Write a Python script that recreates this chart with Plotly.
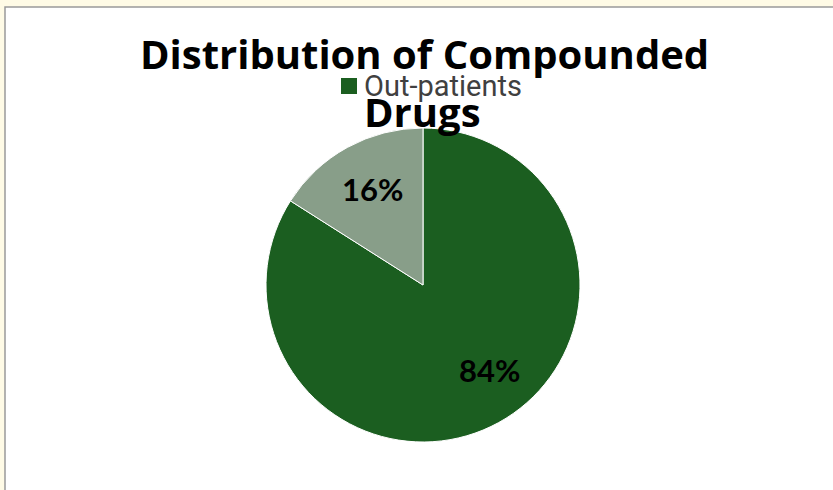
import math
import plotly.graph_objects as go

labels = ["Out-patients", "In-patients"]
values = [84, 16]
colors = ["#1B5E20", "#889E89"]
title_lines = ["Distribution of Compounded", "Drugs"]
legend_label = "Out-patients"

W, H = 833, 490
CX, CY, R = 423, 285, 157

def px(x):
    return x / W

def py(y):
    return 1 - y / H

fig = go.Figure(go.Pie(
    labels=labels,
    values=values,
    sort=False,
    direction="clockwise",
    rotation=0,
    marker=dict(colors=colors, line=dict(color="#FFFFFF", width=1)),
    textinfo="none",
    showlegend=False,
    domain=dict(x=[px(CX - R), px(CX + R)], y=[py(CY + R), py(CY - R)]),
    hoverinfo="label+percent",
))

shapes = [
    dict(type="rect", xref="paper", yref="paper",
         x0=px(5), x1=px(840), y0=py(500), y1=py(7),
         fillcolor="#FFFFFF", line=dict(color="#9A9A9A", width=1.5), layer="below"),
    dict(type="rect", xref="paper", yref="paper",
         x0=px(341), x1=px(357), y0=py(94), y1=py(78),
         fillcolor=colors[0], line=dict(width=0)),
]

annotations = [
    dict(text=title_lines[0], x=px(424), y=py(54), xref="paper", yref="paper",
         showarrow=False, xanchor="center", yanchor="middle",
         font=dict(family="Open Sans", size=40, color="#000000", weight="bold")),
    dict(text=legend_label, x=px(362), y=py(86), xref="paper", yref="paper",
         showarrow=False, xanchor="left", yanchor="middle",
         font=dict(family="Roboto", size=29, color="#404040")),
    dict(text=title_lines[1], x=px(423), y=py(111), xref="paper", yref="paper",
         showarrow=False, xanchor="center", yanchor="middle",
         font=dict(family="Open Sans", size=40, color="#000000", weight="bold")),
]

# percentage labels placed inside slices (Excel-like best fit)
total = sum(values)
label_angles = [-52, 118]  # degrees, standard orientation
for v, ang in zip(values, label_angles):
    rr = 0.69 * R
    lx = CX + rr * math.cos(math.radians(ang))
    ly = CY - rr * math.sin(math.radians(ang))
    annotations.append(dict(
        text=f"{round(100 * v / total)}%", x=px(lx), y=py(ly),
        xref="paper", yref="paper", showarrow=False,
        xanchor="center", yanchor="middle",
        font=dict(family="Lato", size=31, color="#000000", weight="bold")))

fig.update_layout(
    width=W, height=H,
    margin=dict(l=0, r=0, t=0, b=0),
    paper_bgcolor="#FFFBE6",
    plot_bgcolor="#FFFFFF",
    shapes=shapes,
    annotations=annotations,
)

fig.write_html("out.html")
